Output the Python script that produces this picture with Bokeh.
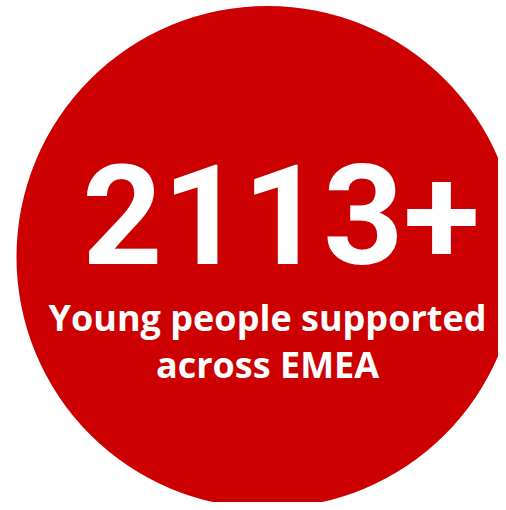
from bokeh.plotting import figure
from bokeh.models import Range1d
from bokeh.core.properties import value
from bokeh.embed import file_html
from bokeh.resources import INLINE

# data
stat_value = ["2113+"]
caption_lines = ["Young people supported", "across EMEA"]

RED = "#cc0000"
W, H = 498, 502

p = figure(width=W, height=H, output_backend="svg", toolbar_location=None,
           title=None, x_range=Range1d(0, W), y_range=Range1d(0, H),
           min_border=0, outline_line_color=None,
           x_axis_location=None, y_axis_location=None)
p.grid.visible = False
p.background_fill_color = "white"
p.border_fill_color = "white"

def Y(py):
    return H - py

p.circle(x=[267], y=[Y(256.5)], radius=251, fill_color=RED, line_color=None)

# baseline compensation for the text glyph's alphabetic anchor
p.text(x=[280.5], y=[Y(265 - 52)], text=stat_value,
       text_font=value("Roboto"), text_font_style="bold",
       text_font_size="140px", text_color="white",
       text_align="center", text_baseline="alphabetic")

p.text(x=[267, 267], y=[Y(330 - 13), Y(377 - 13)], text=caption_lines,
       text_font=value("Open Sans"), text_font_style="bold",
       text_font_size="36px", text_color="white",
       text_align="center", text_baseline="alphabetic")

open("out.html", "w").write(file_html(p, INLINE))
